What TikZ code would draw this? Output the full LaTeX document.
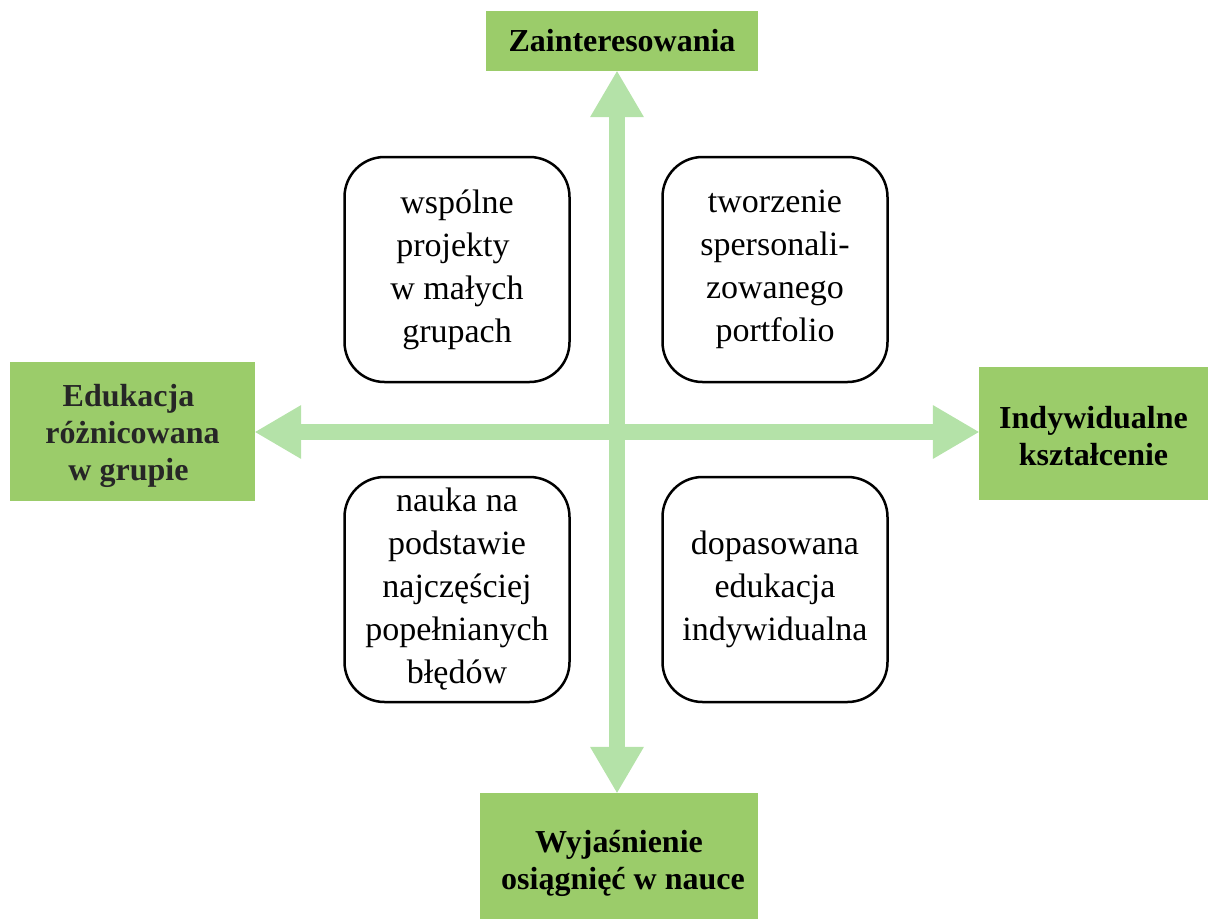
\documentclass[tikz,border=0pt]{standalone}
\usepackage{fontspec}
\setmainfont{Liberation Serif}
\usetikzlibrary{arrows.meta}
\definecolor{axisgreen}{RGB}{155,204,106}
\definecolor{arrowgreen}{RGB}{180,226,168}
\tikzset{
  axisbox/.style={fill=axisgreen, draw=none, inner sep=0pt, align=center,
    font=\bfseries\fontsize{32}{37}\selectfont},
  quadbox/.style={draw=black, line width=2.5pt, rounded corners=40pt,
    minimum width=225pt, minimum height=225pt, inner sep=0pt, align=center,
    font=\fontsize{34}{43}\selectfont},
  bigtip/.tip={Triangle[length=46pt,width=54pt,line width=0pt]},
  bigarrow/.style={draw=arrowgreen, line width=16pt, bigtip-bigtip},
}
% a strut that sets the height of a first line
\newcommand{\toppad}[1]{\rule{0pt}{#1}}
\begin{document}
\begin{tikzpicture}[x=1pt,y=-1pt]
\useasboundingbox (0,0) rectangle (1208,919);

% axis labels
\node[axisbox, minimum width=272pt, minimum height=60pt] (top) at (622,41) {Zainteresowania};
\node[axisbox, minimum width=245pt, minimum height=139pt, text=black!85] (left) at (132.5,431.5)
  {\toppad{32pt}Edukacja\kern8pt\\różnicowana\\w grupie\kern8pt};
\node[axisbox, minimum width=229pt, minimum height=133pt] (right) at (1093.5,433.5)
  {\toppad{28pt}Indywidualne\\kształcenie};
\node[axisbox, minimum width=278pt, minimum height=126pt] (bottom) at (619,856)
  {\toppad{38pt}Wyjaśnienie\\\kern8pt osiągnięć w nauce};

% crossing point of the two axes
\coordinate (c) at (617,432);

% axes
\draw[bigarrow] (c |- top.south) -- (c |- bottom.north);
\draw[bigarrow] (left.east |- c) -- (right.west |- c);

% quadrants
\node[quadbox] (tl) at (457,269.5) {wspólne\\projekty\kern8pt\\w małych\\grupach};
\node[quadbox] (tr) at (775,269.5) {tworzenie\\spersonali-\\zowanego\\portfolio};
\node[quadbox] (bl) at (457,589.5) {nauka na\\podstawie\\najczęściej\\popełnianych\\błędów};
\node[quadbox] (br) at (775,589.5) {dopasowana\\edukacja\\indywidualna};
\end{tikzpicture}
\end{document}
